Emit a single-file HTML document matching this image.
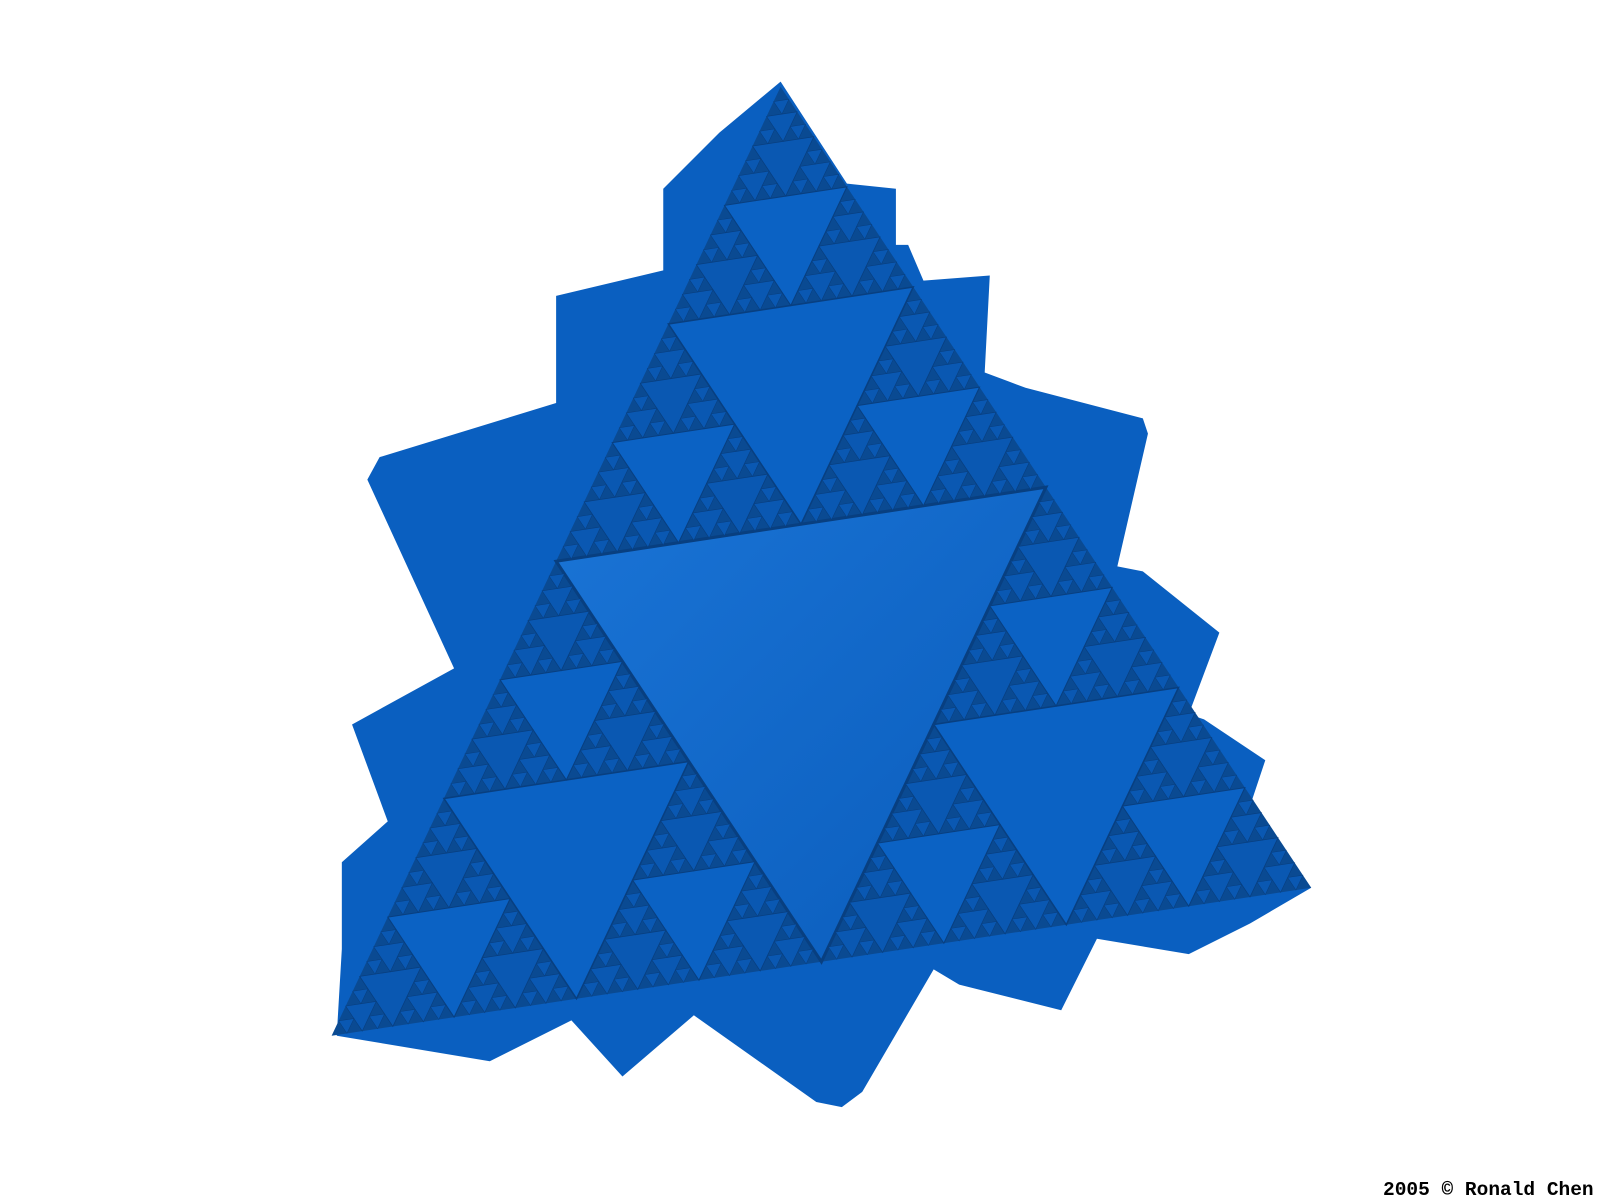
<!DOCTYPE html>
<html><head><meta charset="utf-8"><style>
html,body{margin:0;padding:0;background:#fff;}
svg{display:block;}
</style></head><body>
<svg id="scene" width="1600" height="1200" viewBox="0 0 1600 1200" xmlns="http://www.w3.org/2000/svg">
<defs>
<linearGradient id="faceG" x1="0" y1="0" x2="1" y2="1">
<stop offset="0" stop-color="#1a74d6"/><stop offset="1" stop-color="#0a5cbb"/>
</linearGradient>
</defs>
<g id="world" transform="scale(1.0204)">
<polygon fill="#0a5fc0" points="765,80 830,180 878,185 878,240 890,240 905,275 970,270 965,365 1005,380 1120,410 1125,425 1095,555 1120,560 1195,620 1165,700 1180,705 1240,745 1225,790 1285,870 1225,905 1165,935 1075,920 1040,990 940,965 915,950 845,1070 825,1085 800,1080 680,995 610,1055 560,1000 480,1040 330,1015 335,930 335,845 380,805 345,710 445,655 360,470 372,448 545,395 545,290 650,265 650,185 705,130"/>
<polygon fill="#0a4a92" points="765,85 325,1015 1285,870"/>
<g id="tris"></g>
</g>
<text x="1383" y="1195" font-family="'Liberation Mono', monospace" font-weight="bold" font-size="19.5" fill="#000">2005 © Ronald Chen</text>
</svg>
<script>
const corners = [[765,85],[325,1015],[1285,870]];
const maxDepth = [6];
const g = document.getElementById('tris');
function mid(a,b){return [(a[0]+b[0])/2,(a[1]+b[1])/2];}
function draw(a,b,c,d){
  if(d>maxDepth[0]) return;
  const ab=mid(a,b), bc=mid(b,c), ca=mid(c,a);
  const p=document.createElementNS('http://www.w3.org/2000/svg','polygon');
  p.setAttribute('points',[ab,bc,ca].map(q=>q.join(',')).join(' '));
  p.setAttribute('fill', d===1 ? 'url(#faceG)' : (d<4 ? '#0b62c4' : '#0a58b2'));
  p.setAttribute('stroke','#083f80');
  p.setAttribute('stroke-width', Math.max(0.4, 3/d));
  
  
  g.appendChild(p);
  draw(a,ab,ca,d+1);
  draw(ab,b,bc,d+1);
  draw(ca,bc,c,d+1);
}
draw(corners[0],corners[1],corners[2],1);
</script>
</body></html>
